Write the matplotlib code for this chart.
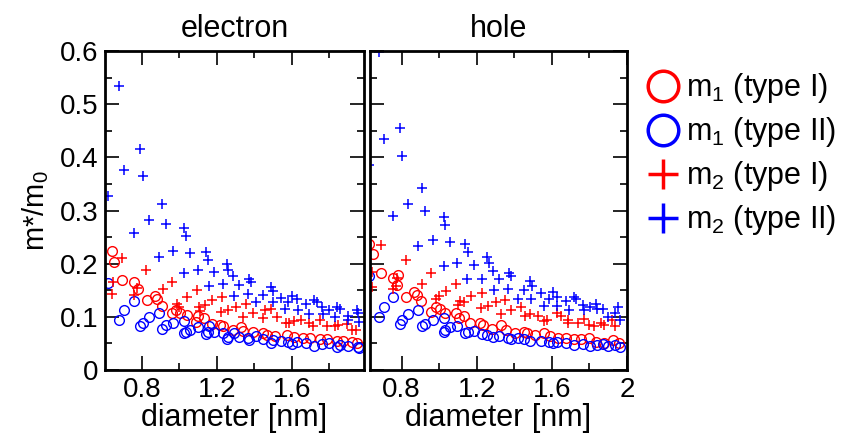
import matplotlib
matplotlib.use('Agg')
import matplotlib.pyplot as plt
from matplotlib.lines import Line2D
from matplotlib.ticker import MultipleLocator, FuncFormatter

plt.rcParams['font.family'] = ['Liberation Sans', 'DejaVu Sans']
plt.rcParams['mathtext.fontset'] = 'custom'
plt.rcParams['mathtext.rm'] = 'Liberation Sans'
plt.rcParams['mathtext.it'] = 'Liberation Sans'
plt.rcParams['mathtext.default'] = 'regular'

# electron: m1 type I (red circles)
e_m1_I_x = [0.640, 0.652, 0.693, 0.756, 0.779, 0.827, 0.873, 0.880, 0.907, 0.960, 0.983, 1.004,
            1.040, 1.090, 1.102, 1.132, 1.173, 1.218, 1.236, 1.285, 1.330, 1.342, 1.396, 1.449,
            1.467, 1.511, 1.573, 1.612, 1.662, 1.698, 1.751, 1.790, 1.840, 1.876, 1.920, 1.947]
e_m1_I_y = [0.223, 0.204, 0.169, 0.165, 0.152, 0.132, 0.139, 0.133, 0.121, 0.107, 0.113, 0.108,
            0.103, 0.090, 0.102, 0.097, 0.087, 0.084, 0.083, 0.076, 0.080, 0.074, 0.071, 0.069,
            0.066, 0.064, 0.066, 0.063, 0.061, 0.060, 0.058, 0.058, 0.054, 0.054, 0.053, 0.050]

# electron: m1 type II (blue circles)
e_m1_II_x = [0.622, 0.681, 0.706, 0.756, 0.791, 0.804, 0.837, 0.891, 0.908, 0.930, 0.967, 1.024,
             1.035, 1.024, 1.058, 1.099, 1.141, 1.156, 1.157, 1.186, 1.232, 1.253, 1.260, 1.294,
             1.317, 1.369, 1.372, 1.408, 1.449, 1.488, 1.499, 1.541, 1.580, 1.604, 1.630, 1.676,
             1.719, 1.764, 1.799, 1.840, 1.858, 1.902, 1.952, 1.961]
e_m1_II_y = [0.163, 0.094, 0.113, 0.129, 0.082, 0.089, 0.099, 0.107, 0.078, 0.085, 0.089, 0.069,
             0.072, 0.092, 0.076, 0.080, 0.068, 0.071, 0.082, 0.071, 0.069, 0.058, 0.062, 0.070,
             0.063, 0.060, 0.056, 0.064, 0.058, 0.051, 0.056, 0.055, 0.053, 0.049, 0.053, 0.050,
             0.045, 0.049, 0.051, 0.044, 0.047, 0.045, 0.044, 0.041]

# electron: m2 type I (red plus)
e_m2_I_x = [0.640, 0.649, 0.697, 0.756, 0.773, 0.823, 0.912, 0.960, 0.987, 0.996, 1.040, 1.093,
            1.108, 1.111, 1.138, 1.173, 1.223, 1.227, 1.259, 1.301, 1.339, 1.355, 1.392, 1.445,
            1.458, 1.490, 1.520, 1.570, 1.588, 1.612, 1.648, 1.692, 1.716, 1.751, 1.790, 1.831,
            1.849, 1.893, 1.920, 1.943]
e_m2_I_y = [0.143, 0.166, 0.210, 0.141, 0.155, 0.188, 0.152, 0.166, 0.125, 0.118, 0.138, 0.150,
            0.119, 0.111, 0.122, 0.132, 0.110, 0.137, 0.113, 0.119, 0.100, 0.124, 0.107, 0.097,
            0.113, 0.114, 0.100, 0.089, 0.089, 0.093, 0.094, 0.089, 0.082, 0.094, 0.083, 0.083,
            0.085, 0.087, 0.076, 0.075]

# electron: m2 type II (blue plus)
e_m2_II_x = [0.622, 0.681, 0.706, 0.756, 0.791, 0.804, 0.837, 0.891, 0.908, 0.930, 0.967, 1.024,
             1.035, 1.024, 1.058, 1.099, 1.141, 1.156, 1.157, 1.186, 1.232, 1.253, 1.260, 1.285,
             1.294, 1.317, 1.369, 1.372, 1.381, 1.408, 1.449, 1.488, 1.499, 1.499, 1.541, 1.564,
             1.580, 1.604, 1.630, 1.634, 1.676, 1.692, 1.719, 1.733, 1.764, 1.769, 1.799, 1.831,
             1.840, 1.858, 1.899, 1.902, 1.947, 1.952, 1.961]
e_m2_II_y = [0.328, 0.535, 0.377, 0.257, 0.416, 0.364, 0.282, 0.212, 0.313, 0.275, 0.224, 0.268,
             0.252, 0.182, 0.221, 0.188, 0.222, 0.207, 0.158, 0.185, 0.162, 0.199, 0.189, 0.177,
             0.140, 0.160, 0.143, 0.172, 0.166, 0.128, 0.141, 0.157, 0.148, 0.128, 0.136, 0.114,
             0.127, 0.139, 0.133, 0.113, 0.124, 0.105, 0.131, 0.127, 0.119, 0.105, 0.112, 0.100,
             0.118, 0.114, 0.102, 0.095, 0.112, 0.107, 0.091]

# hole: m1 type I (red circles)
h_m1_I_x = [0.627, 0.650, 0.690, 0.779, 0.756, 0.777, 0.823, 0.867, 0.880, 0.906, 0.959, 0.982,
            1.004, 1.030, 1.092, 1.104, 1.131, 1.163, 1.216, 1.234, 1.283, 1.331, 1.358, 1.402,
            1.451, 1.469, 1.508, 1.561, 1.593, 1.632, 1.676, 1.717, 1.756, 1.796, 1.835, 1.880,
            1.924, 1.959]
h_m1_I_y = [0.237, 0.219, 0.183, 0.178, 0.174, 0.160, 0.138, 0.147, 0.141, 0.129, 0.110, 0.119,
            0.114, 0.107, 0.107, 0.097, 0.102, 0.088, 0.089, 0.085, 0.078, 0.085, 0.076, 0.070,
            0.072, 0.069, 0.066, 0.069, 0.064, 0.061, 0.061, 0.058, 0.058, 0.060, 0.053, 0.051,
            0.056, 0.051]

# hole: m1 type II (blue circles)
h_m1_II_x = [0.627, 0.680, 0.706, 0.756, 0.791, 0.804, 0.835, 0.888, 0.910, 0.927, 0.968, 1.025,
             1.030, 1.025, 1.057, 1.097, 1.136, 1.154, 1.186, 1.230, 1.255, 1.287, 1.317, 1.366,
             1.384, 1.419, 1.451, 1.485, 1.543, 1.584, 1.605, 1.626, 1.673, 1.720, 1.765, 1.802,
             1.841, 1.871, 1.897, 1.936, 1.963]
h_m1_II_y = [0.176, 0.100, 0.119, 0.138, 0.086, 0.094, 0.105, 0.113, 0.082, 0.087, 0.094, 0.072,
             0.076, 0.097, 0.080, 0.083, 0.069, 0.072, 0.074, 0.068, 0.066, 0.063, 0.064, 0.061,
             0.058, 0.060, 0.058, 0.055, 0.055, 0.053, 0.050, 0.052, 0.050, 0.047, 0.049, 0.046,
             0.047, 0.049, 0.045, 0.047, 0.043]

# hole: m2 type I (red plus)
h_m2_I_x = [0.690, 0.644, 0.641, 0.777, 0.773, 0.752, 0.823, 0.910, 0.959, 0.986, 0.998, 1.039,
            1.092, 1.101, 1.110, 1.133, 1.172, 1.221, 1.228, 1.260, 1.301, 1.331, 1.349, 1.384,
            1.434, 1.455, 1.485, 1.526, 1.561, 1.575, 1.626, 1.650, 1.685, 1.688, 1.738, 1.773,
            1.800, 1.827, 1.862, 1.880, 1.920, 1.936]
h_m2_I_y = [0.235, 0.184, 0.157, 0.174, 0.158, 0.152, 0.207, 0.162, 0.182, 0.133, 0.139, 0.149,
            0.161, 0.122, 0.130, 0.127, 0.139, 0.116, 0.144, 0.121, 0.127, 0.105, 0.132, 0.113,
            0.119, 0.102, 0.105, 0.102, 0.092, 0.095, 0.108, 0.102, 0.088, 0.094, 0.089, 0.096,
            0.085, 0.083, 0.089, 0.085, 0.094, 0.083]

# hole: m2 type II (blue plus)
h_m2_II_x = [0.680, 0.706, 0.791, 0.804, 0.625, 0.756, 0.835, 0.910, 0.927, 0.888, 0.968, 1.025,
             1.030, 1.025, 1.057, 1.097, 1.136, 1.154, 1.150, 1.186, 1.230, 1.255, 1.264, 1.287,
             1.290, 1.317, 1.366, 1.372, 1.384, 1.419, 1.451, 1.485, 1.494, 1.490, 1.543, 1.561,
             1.584, 1.605, 1.626, 1.628, 1.673, 1.694, 1.720, 1.729, 1.765, 1.773, 1.802, 1.835,
             1.841, 1.871, 1.897, 1.936, 1.954, 1.963]
h_m2_II_y = [0.599, 0.434, 0.456, 0.403, 0.385, 0.290, 0.313, 0.342, 0.300, 0.233, 0.245, 0.288,
             0.272, 0.196, 0.240, 0.202, 0.237, 0.222, 0.171, 0.197, 0.172, 0.212, 0.201, 0.187,
             0.150, 0.171, 0.153, 0.182, 0.176, 0.134, 0.150, 0.167, 0.158, 0.134, 0.144, 0.121,
             0.134, 0.147, 0.138, 0.121, 0.130, 0.113, 0.137, 0.133, 0.122, 0.113, 0.119, 0.124,
             0.114, 0.114, 0.100, 0.107, 0.118, 0.095]

panels = [
    ('electron', (0.604, 1.986), e_m1_I_x, e_m1_I_y, e_m1_II_x, e_m1_II_y,
     e_m2_I_x, e_m2_I_y, e_m2_II_x, e_m2_II_y),
    ('hole', (0.632, 2.0), h_m1_I_x, h_m1_I_y, h_m1_II_x, h_m1_II_y,
     h_m2_I_x, h_m2_I_y, h_m2_II_x, h_m2_II_y),
]

fig = plt.figure(figsize=(8.56, 4.45), dpi=100)
ax_pos = [[0.1227, 0.1685, 0.3026, 0.7169], [0.4322, 0.1685, 0.3002, 0.7169]]

fmt = FuncFormatter(lambda v, p: '%g' % round(v, 2))

for i, (title, xlim, x1, y1, x2, y2, x3, y3, x4, y4) in enumerate(panels):
    ax = fig.add_axes(ax_pos[i])
    ax.plot(x1, y1, 'o', mfc='none', mec='red', ms=7, mew=1.0, ls='none')
    ax.plot(x2, y2, 'o', mfc='none', mec='blue', ms=7, mew=1.0, ls='none')
    ax.plot(x3, y3, '+', color='red', ms=7, mew=1.1, ls='none')
    ax.plot(x4, y4, '+', color='blue', ms=7, mew=1.1, ls='none')

    ax.set_xlim(xlim)
    ax.set_ylim(0, 0.6)
    ax.xaxis.set_major_locator(MultipleLocator(0.4))
    ax.xaxis.set_minor_locator(MultipleLocator(0.2))
    ax.yaxis.set_major_locator(MultipleLocator(0.1))
    ax.yaxis.set_minor_locator(MultipleLocator(0.05))
    ax.xaxis.set_major_formatter(fmt)
    ax.yaxis.set_major_formatter(fmt)
    ax.tick_params(which='both', direction='in', top=True, right=True, width=1.2)
    ax.tick_params(which='major', length=10, labelsize=20, pad=5)
    ax.tick_params(which='minor', length=5)
    for s in ax.spines.values():
        s.set_linewidth(2.0)
    ax.set_title(title, fontsize=22, pad=10)
    ax.set_xlabel('diameter [nm]', fontsize=22, labelpad=0)
    if i == 0:
        ax.set_ylabel('m*/m$_0$', fontsize=21, labelpad=6)
    else:
        ax.tick_params(labelleft=False)

handles = [
    Line2D([], [], marker='o', ls='none', mfc='none', mec='red', ms=22, mew=2.5),
    Line2D([], [], marker='o', ls='none', mfc='none', mec='blue', ms=22, mew=2.5),
    Line2D([], [], marker='+', ls='none', color='red', ms=22, mew=2.5),
    Line2D([], [], marker='+', ls='none', color='blue', ms=22, mew=2.5),
]
labels = ['m$_1$ (type I)', 'm$_1$ (type II)', 'm$_2$ (type I)', 'm$_2$ (type II)']
fig.legend(handles, labels, loc='upper left', bbox_to_anchor=(0.757, 0.84),
           frameon=False, fontsize=22, handlelength=1.0, handletextpad=0.25,
           labelspacing=0.33, borderpad=0, borderaxespad=0)

fig.savefig('out.png', dpi=100)
